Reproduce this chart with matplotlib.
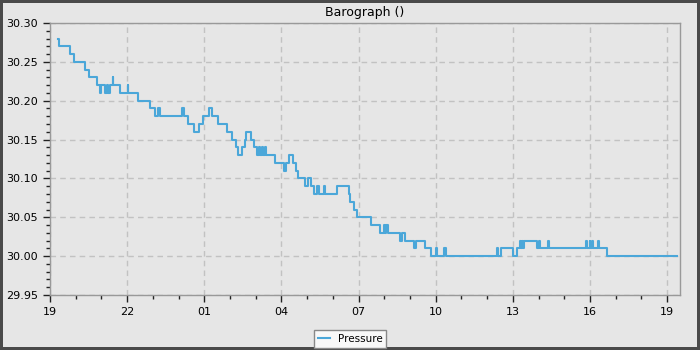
import matplotlib
matplotlib.use('Agg')

import matplotlib.pyplot as plt
import matplotlib.dates as mdates
from matplotlib.ticker import MultipleLocator, FormatStrFormatter
import datetime as dt

# minutes after 19:00 where the reading changes, and the reading from then on
minutos = [19, 22, 47, 55, 82, 91, 110, 117, 119, 128, 133, 135, 140, 146, 148,
           163, 181, 183, 205, 233, 245, 253, 257, 309, 313, 323, 336, 347, 356,
           370, 378, 391, 412, 424, 434, 439, 449, 454, 457, 470, 476, 484, 488,
           490, 495, 497, 501, 505, 525, 546, 550, 558, 566, 573, 578, 595, 603,
           609, 617, 623, 627, 640, 642, 669, 697, 700, 710, 717, 749, 771, 780,
           782, 785, 788, 817, 822, 829, 850, 854, 874, 889, 901, 904, 920, 923,
           1043, 1046, 1053, 1081, 1089, 1096, 1099, 1102, 1104, 1106, 1137, 1141,
           1144, 1163, 1165, 1251, 1254, 1259, 1261, 1264, 1267, 1278, 1282, 1299,
           1463]
pressao = [30.28, 30.27, 30.26, 30.25, 30.24, 30.23, 30.22, 30.21, 30.22, 30.21,
           30.22, 30.21, 30.22, 30.23, 30.22, 30.21, 30.22, 30.21, 30.20, 30.19,
           30.18, 30.19, 30.18, 30.19, 30.18, 30.17, 30.16, 30.17, 30.18, 30.19,
           30.18, 30.17, 30.16, 30.15, 30.14, 30.13, 30.14, 30.15, 30.16, 30.15,
           30.14, 30.13, 30.14, 30.13, 30.14, 30.13, 30.14, 30.13, 30.12, 30.11,
           30.12, 30.13, 30.12, 30.11, 30.10, 30.09, 30.10, 30.09, 30.08, 30.09,
           30.08, 30.09, 30.08, 30.09, 30.08, 30.07, 30.06, 30.05, 30.04, 30.03,
           30.04, 30.03, 30.04, 30.03, 30.02, 30.03, 30.02, 30.01, 30.02, 30.01,
           30.00, 30.01, 30.00, 30.01, 30.00, 30.01, 30.00, 30.01, 30.00, 30.01,
           30.02, 30.01, 30.02, 30.01, 30.02, 30.01, 30.02, 30.01, 30.02, 30.01,
           30.02, 30.01, 30.02, 30.01, 30.02, 30.01, 30.02, 30.01, 30.00, 30.00]

inicio = dt.datetime(2024, 1, 1, 19, 0)
tempos = [inicio + dt.timedelta(minutes=m) for m in minutos]

fundo = '#e6e6e6'
fig = plt.figure(figsize=(7, 3.5), dpi=100, facecolor=fundo,
                 edgecolor='#4a4a4a', linewidth=4)
ax = fig.add_axes([50/700, 1 - 295/350, 630/700, 272/350])
ax.set_facecolor(fundo)

ax.step(tempos, pressao, where='post', color='#4ba7d9', linewidth=1.5,
        label='Pressure')

ax.set_xlim(inicio, inicio + dt.timedelta(minutes=1470))
ax.set_ylim(29.95, 30.30)

ax.xaxis.set_major_locator(mdates.HourLocator(byhour=[1, 4, 7, 10, 13, 16, 19, 22]))
ax.xaxis.set_minor_locator(mdates.HourLocator())
ax.xaxis.set_major_formatter(mdates.DateFormatter('%H'))
ax.yaxis.set_major_locator(MultipleLocator(0.05))
ax.yaxis.set_minor_locator(MultipleLocator(0.01))
ax.yaxis.set_major_formatter(FormatStrFormatter('%.2f'))

ax.tick_params(which='major', direction='out', length=5, width=1, labelsize=8,
               color='#222222')
ax.tick_params(which='minor', direction='out', length=3, width=1, color='#222222')
ax.grid(True, which='major', linestyle=(0, (4, 3)), color='#c2c2c2', linewidth=1)

for lado in ax.spines.values():
    lado.set_color('#999999')
    lado.set_linewidth(1)

ax.set_title('Barograph ()', fontsize=9, pad=5)

leg = fig.legend(loc='lower center', bbox_to_anchor=(0.5, -0.008), fontsize=7.5,
                 fancybox=False, framealpha=1, edgecolor='#888888',
                 handlelength=1.2, borderpad=0.35, handletextpad=0.7)
leg.get_frame().set_facecolor('#f8f8f8')

fig.savefig('out.png', dpi=100, facecolor=fundo, edgecolor='#4a4a4a')
